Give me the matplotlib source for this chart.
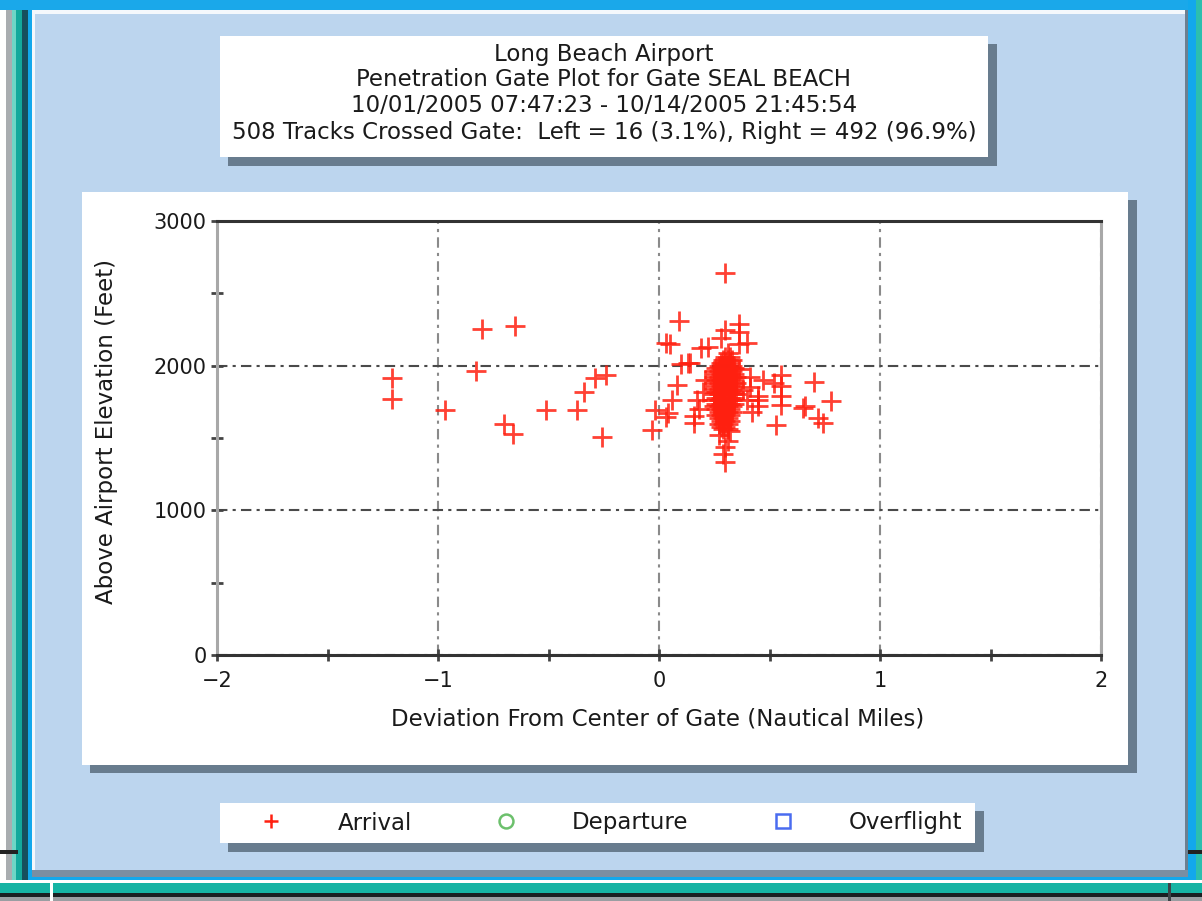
import matplotlib
matplotlib.use('Agg')
import matplotlib.pyplot as plt
from matplotlib.patches import Rectangle

# Title lines of the report
title_lines = [
    'Long Beach Airport',
    'Penetration Gate Plot for Gate SEAL BEACH',
    '10/01/2005 07:47:23 - 10/14/2005 21:45:54',
    '508 Tracks Crossed Gate:  Left = 16 (3.1%), Right = 492 (96.9%)',
]
x_label = 'Deviation From Center of Gate (Nautical Miles)'
y_label = 'Above Airport Elevation (Feet)'
x_ticks = [-2, -1, 0, 1, 2]
x_tick_labels = ['\u22122', '\u22121', '0', '1', '2']
y_ticks = [0, 1000, 2000, 3000]
series_names = ['Arrival', 'Departure', 'Overflight']

# Scattered arrival crossings (deviation nm, altitude ft)
scatter_dev = [
    # left side
    -1.21, -1.21, -0.97, -0.83, -0.80, -0.65, -0.70, -0.66, -0.51, -0.37,
    -0.34, -0.29, -0.24, -0.26, -0.03, -0.02, 0.03, 0.03,
    # near the centre line
    0.05, 0.09, 0.10, 0.14, 0.08, 0.06, 0.04, 0.13, 0.16, 0.16,
    0.17, 0.19, 0.21, 0.22, 0.20, 0.18,
    # above / below the main cluster
    0.30, 0.30, 0.36, 0.36, 0.36, 0.40, 0.31, 0.28,
    0.30, 0.30, 0.29, 0.31, 0.27, 0.32,
    # right of the main cluster
    0.41, 0.41, 0.45, 0.45, 0.45, 0.55, 0.55, 0.55, 0.55, 0.53,
    0.52, 0.70, 0.65, 0.66, 0.78, 0.74, 0.72, 0.38, 0.40, 0.36,
    0.42, 0.47,
]
scatter_alt = [
    1912, 1769, 1693, 1965, 2251, 2274, 1594, 1525, 1693, 1693,
    1817, 1912, 1935, 1509, 1555, 1693, 1647, 2156,
    2147, 2308, 2011, 2016, 1866, 1762, 1670, 2018, 1601, 1650,
    1762, 2120, 1900, 2131, 1820, 1700,
    2638, 2246, 2290, 2234, 2150, 2156, 2087, 2190,
    1336, 1440, 1390, 1480, 1520, 1545,
    1923, 1850, 1790, 1762, 1720, 1935, 1860, 1790, 1730, 1590,
    1880, 1889, 1707, 1720, 1758, 1601, 1640, 1830, 1760, 1980,
    1680, 1900,
]

# Dense cluster right of centre: altitude of each row and deviations in it
cluster_alt = [2062, 2041, 2019, 1998, 1981, 1960, 1939, 1921, 1899, 1880,
               1858, 1841, 1819, 1801, 1779, 1760, 1738, 1721, 1699, 1680,
               1658, 1641, 1619, 1598, 1579, 1560]
cluster_dev = [
    [0.30, 0.32],
    [0.29, 0.31, 0.33],
    [0.28, 0.30, 0.32],
    [0.27, 0.29, 0.31, 0.33],
    [0.26, 0.28, 0.30, 0.32, 0.34],
    [0.25, 0.27, 0.29, 0.31, 0.33],
    [0.26, 0.28, 0.30, 0.32, 0.34],
    [0.25, 0.27, 0.29, 0.31, 0.33, 0.35],
    [0.26, 0.28, 0.30, 0.32, 0.34],
    [0.25, 0.27, 0.29, 0.31, 0.33, 0.35],
    [0.26, 0.28, 0.30, 0.32, 0.34],
    [0.25, 0.27, 0.29, 0.31, 0.33],
    [0.26, 0.28, 0.30, 0.32, 0.34],
    [0.25, 0.27, 0.29, 0.31, 0.33, 0.35],
    [0.26, 0.28, 0.30, 0.32, 0.34],
    [0.25, 0.27, 0.29, 0.31, 0.33],
    [0.26, 0.28, 0.30, 0.32, 0.34],
    [0.25, 0.27, 0.29, 0.31, 0.33],
    [0.26, 0.28, 0.30, 0.32],
    [0.27, 0.29, 0.31, 0.33],
    [0.26, 0.28, 0.30, 0.32],
    [0.27, 0.29, 0.31],
    [0.28, 0.30, 0.32],
    [0.27, 0.29, 0.31],
    [0.28, 0.30],
    [0.29, 0.31],
]
departure_dev, departure_alt = [], []
overflight_dev, overflight_alt = [], []

arrival_dev = list(scatter_dev)
arrival_alt = list(scatter_alt)
for alt, devs in zip(cluster_alt, cluster_dev):
    arrival_dev += devs
    arrival_alt += [alt] * len(devs)

W, H = 1202, 901
plt.rcParams['font.family'] = 'DejaVu Sans'
TXT = '#1a1a1a'
FS = 16.5

fig = plt.figure(figsize=(W / 100, H / 100), dpi=100, facecolor='#bcd5ee')

# background layer in pixel coordinates for the window chrome and panels
bg = fig.add_axes([0, 0, 1, 1], zorder=0)
bg.set_xlim(0, W)
bg.set_ylim(H, 0)
bg.axis('off')


def rect(x0, y0, x1, y1, color, z=1):
    bg.add_patch(Rectangle((x0, y0), x1 - x0, y1 - y0, facecolor=color,
                           edgecolor='none', zorder=z))


# window frame
rect(0, 0, 6, H, '#ffffff')
rect(6, 0, 12, H, '#a9adb0')
rect(12, 0, 16, H, '#6fd6c6')
rect(16, 0, 22, H, '#14a99c')
rect(22, 0, 28, H, '#16505e')
rect(28, 0, 32, H, '#12a8ec')
rect(32, 12, 35, 878, '#f4f8fc')
rect(0, 0, W, 10, '#1aa8ea')
rect(32, 10, 1186, 14, '#f4f8fc')
rect(1185, 10, 1188, 878, '#6c7f90')
rect(1188, 0, 1196, 880, '#12a8ec')
rect(1196, 0, W, H, '#2cbfae')
rect(32, 870, 1188, 877, '#7a8ea2')
rect(28, 877, 1196, 880, '#12a8ec')
rect(0, 880, W, 883, '#ffffff')
rect(0, 883, W, 893, '#16b4a4')
rect(0, 893, W, 897, '#1a1f22')
rect(0, 897, W, H, '#9a9ea2')
rect(50, 883, 53, H, '#ffffff')
rect(1168, 883, 1171, H, '#3c4448')
rect(0, 850, 18, 854, '#222222')
rect(1188, 850, W, 854, '#222222')

# title box with shadow
rect(228, 44, 997, 166, '#687c8e')
rect(220, 36, 988, 157, '#ffffff', z=2)
for i, line in enumerate(title_lines):
    bg.text(604, 54 + 26 * i, line, ha='center', va='center',
            fontsize=FS, color=TXT, zorder=3)

# plot panel with shadow
rect(90, 200, 1137, 773, '#687c8e')
rect(82, 192, 1128, 765, '#ffffff', z=2)

# legend box with shadow
rect(228, 811, 984, 852, '#687c8e')
rect(220, 803, 975, 843, '#ffffff', z=2)

# the scatter axes
ax = fig.add_axes([217 / W, 1 - 655 / H, 884 / W, 434 / H], zorder=1)
ax.set_facecolor('white')
ax.set_xlim(-2, 2)
ax.set_ylim(0, 3000)

ax.plot(arrival_dev, arrival_alt, linestyle='none', marker='+', markersize=15,
        markeredgewidth=2.0, color='#ff2010', alpha=0.85, label=series_names[0])
ax.plot(departure_dev, departure_alt, linestyle='none', marker='o',
        markersize=8, markerfacecolor='none', markeredgewidth=2,
        color='#6cc06c', label=series_names[1])
ax.plot(overflight_dev, overflight_alt, linestyle='none', marker='s',
        markersize=8, markerfacecolor='none', markeredgewidth=2,
        color='#4a6cf0', label=series_names[2])

for side in ['top', 'bottom']:
    ax.spines[side].set_color('#333333')
    ax.spines[side].set_linewidth(2.2)
for side in ['left', 'right']:
    ax.spines[side].set_color('#a8a8a8')
    ax.spines[side].set_linewidth(2.2)

ax.set_xticks(x_ticks)
ax.set_xticklabels(x_tick_labels)
ax.set_xticks([-1.5, -0.5, 0.5, 1.5], minor=True)
ax.set_yticks(y_ticks)
ax.set_yticks([500, 1500, 2500], minor=True)
ax.tick_params(which='both', direction='inout', length=9, width=2,
               color='#444444', top=False, right=False)
ax.tick_params(axis='x', which='major', labelsize=15, pad=7, labelcolor=TXT)
ax.tick_params(axis='y', which='major', labelsize=15, pad=3, labelcolor=TXT)

dashdot = (0, (5, 2.5, 1.5, 2.5))
ax.xaxis.grid(True, which='major', color='#8a8a8a', linestyle=dashdot, linewidth=1.5)
ax.yaxis.grid(True, which='major', color='#4a4a4a', linestyle=dashdot, linewidth=1.5)
ax.set_axisbelow(True)

ax.set_xlabel(x_label, fontsize=FS, color=TXT)
ax.set_ylabel(y_label, fontsize=FS, color=TXT)
ax.xaxis.set_label_coords(0.498, -0.122)
ax.yaxis.set_label_coords(-0.112, 0.514)

leg = fig.legend(loc='center', bbox_to_anchor=(611 / W, 1 - 823 / H), ncol=3,
                 frameon=False, fontsize=FS, handlelength=1.0,
                 handletextpad=2.4, columnspacing=3.6)
for t in leg.get_texts():
    t.set_color(TXT)
for h in leg.legend_handles:
    h.set_alpha(1)
    h.set_markersize(10)
    h.set_markeredgewidth(1.8)

fig.savefig('out.png', dpi=100)
